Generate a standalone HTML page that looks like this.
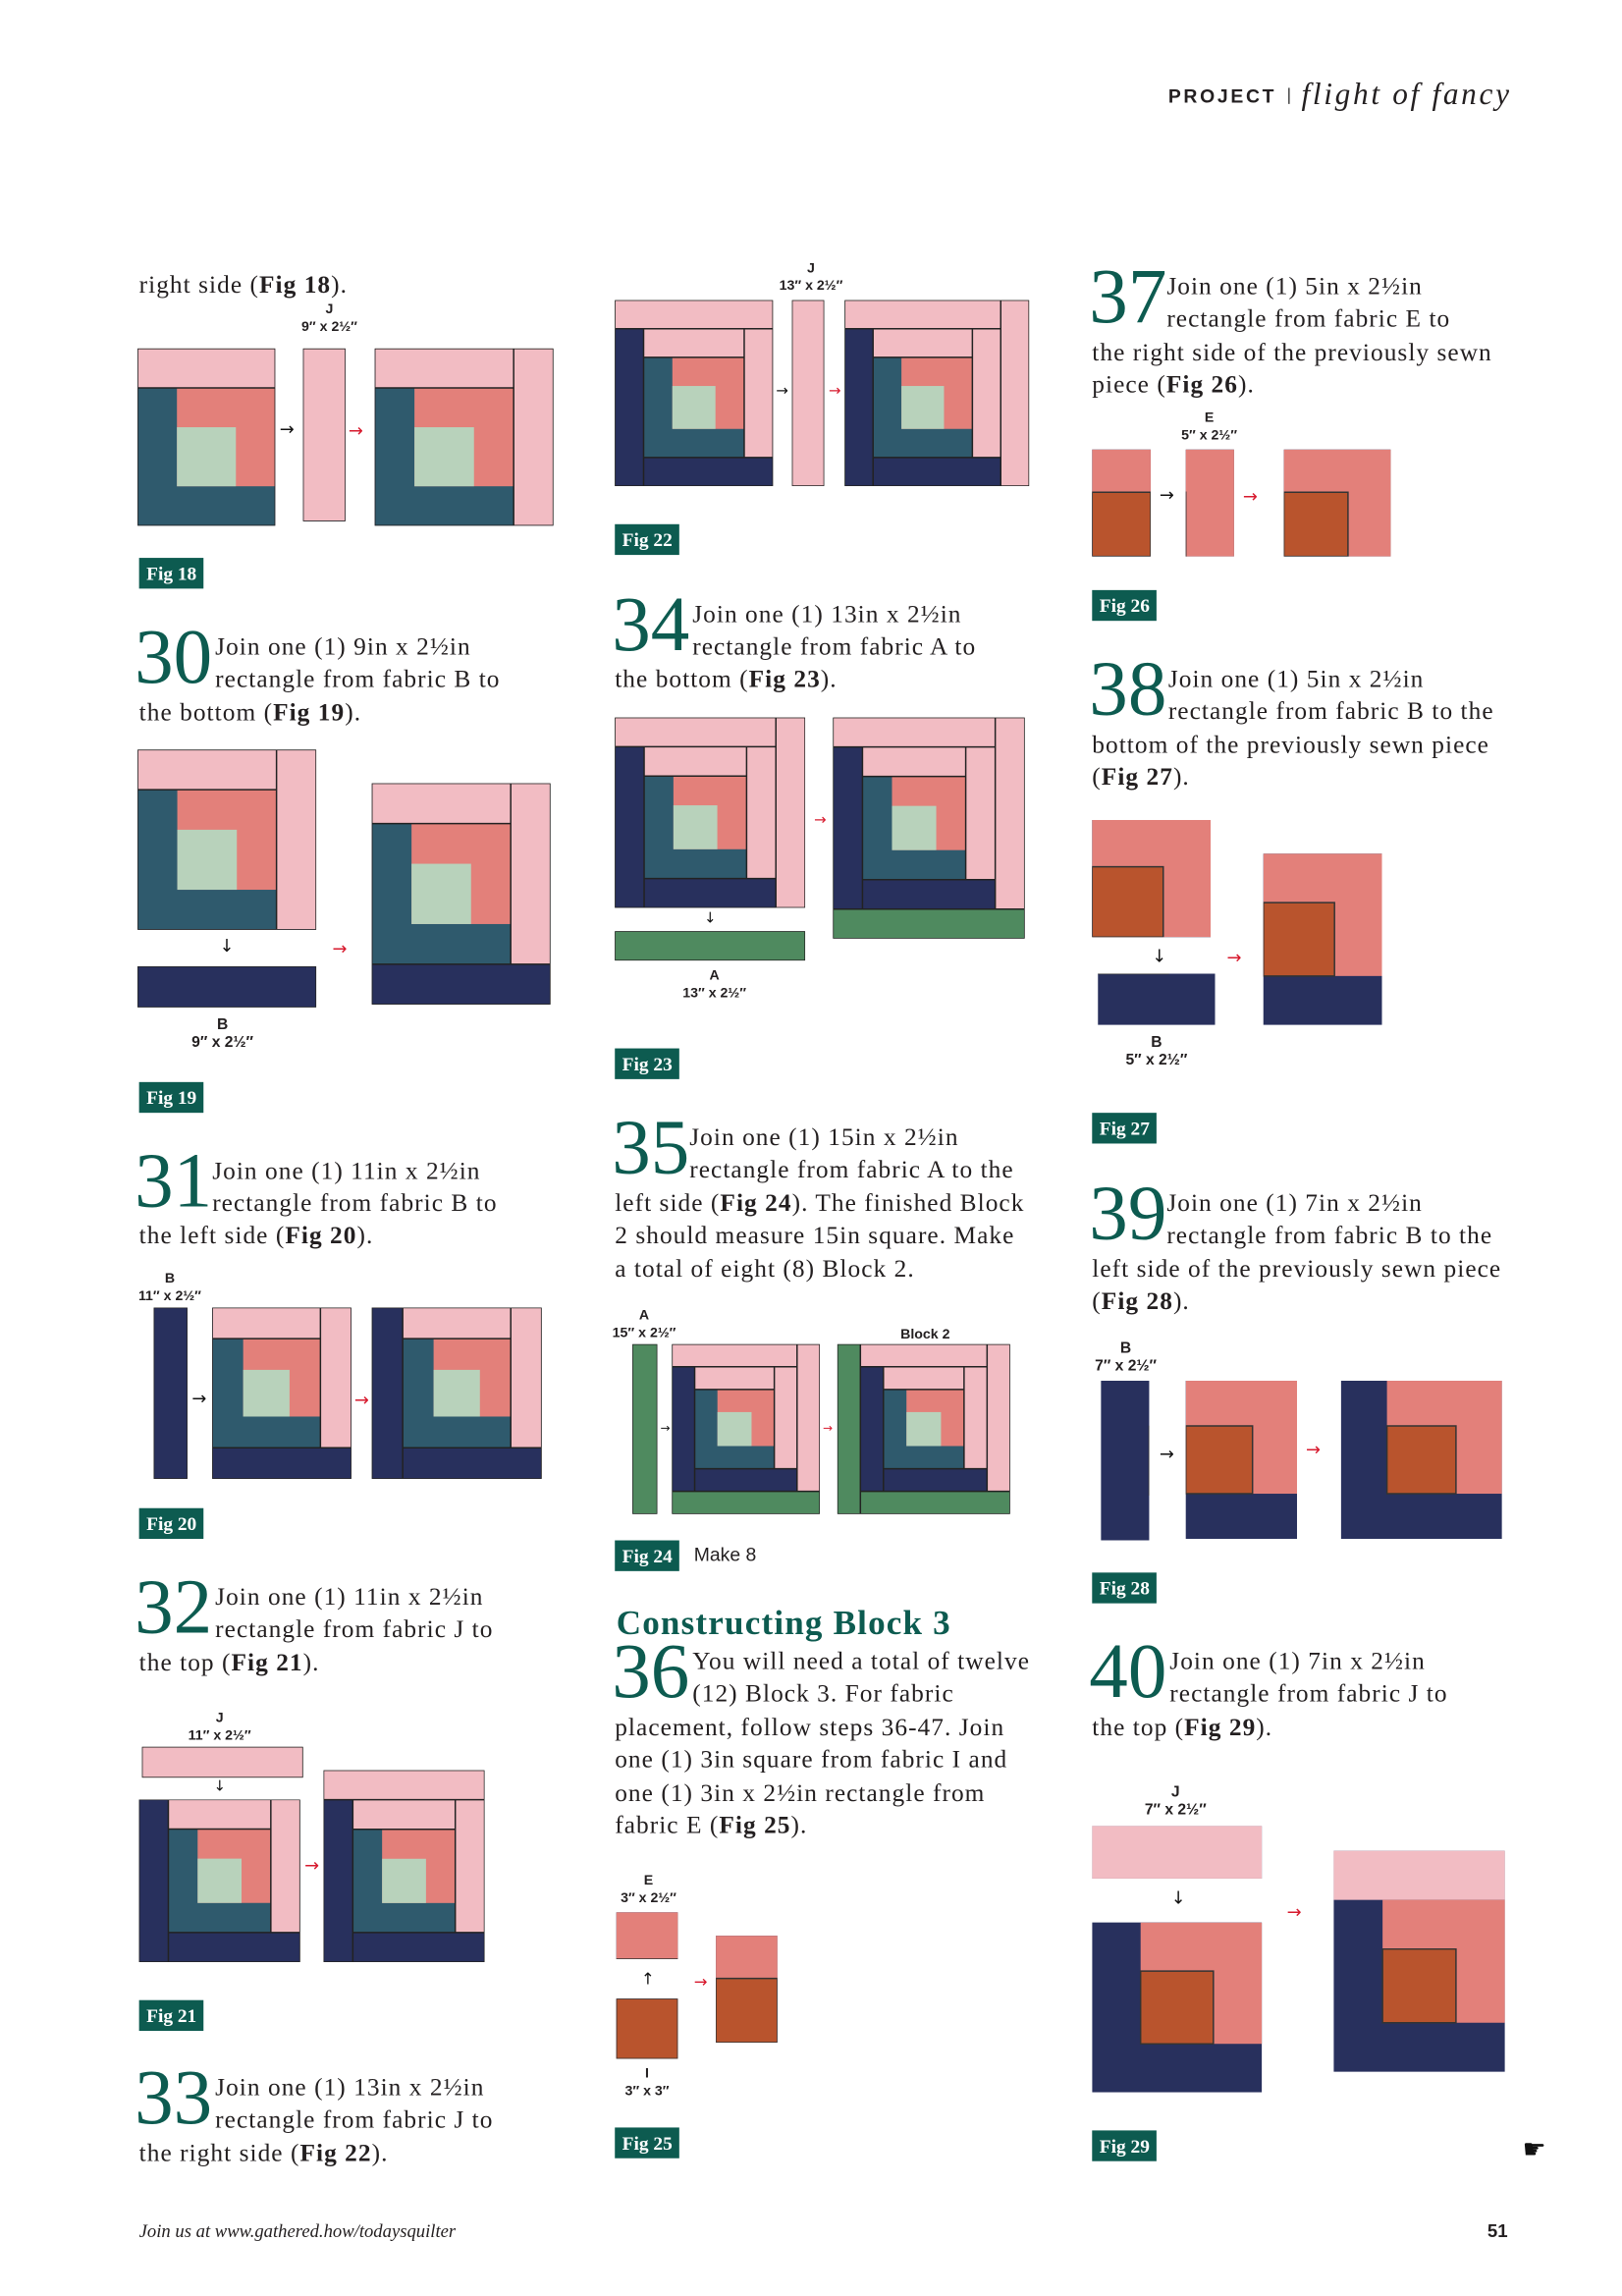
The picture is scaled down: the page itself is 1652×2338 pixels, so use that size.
<!DOCTYPE html>
<html><head><meta charset="utf-8">
<style>
html,body{margin:0;padding:0;background:#fff;}
body{width:1652px;height:2337px;overflow:hidden;position:relative;}
#w{position:absolute;left:0;top:0;width:1108px;height:1568px;transform:scale(1.491);transform-origin:0 0;}
.a{position:absolute;}
.t{position:absolute;font-family:"Liberation Serif",serif;font-size:17px;line-height:22.4px;color:#231f20;letter-spacing:0.7px;white-space:nowrap;}
.n{position:absolute;font-family:"Liberation Serif",serif;font-size:53px;line-height:53px;color:#0d5b50;}
.fl{position:absolute;background:#0d5b50;color:#fff;font-family:"Liberation Serif",serif;font-weight:bold;font-size:13px;line-height:21px;height:21px;padding:0 5px;}
.lb{position:absolute;font-family:"Liberation Sans",sans-serif;font-weight:bold;font-size:9.5px;line-height:12px;color:#231f20;text-align:center;white-space:nowrap;}
svg.b{position:absolute;}
.ar{position:absolute;font-family:"DejaVu Sans",sans-serif;font-size:12px;line-height:12px;color:#111;}
.ar.r{color:#d7192d;}
</style></head><body>
<svg width="0" height="0" style="position:absolute">
<defs>
<g id="L">
<rect x="0" y="0" width="15" height="15" fill="#4f8a5f"/>
<rect x="2" y="0" width="13" height="13" fill="#f2bcc3"/>
<rect x="2" y="2" width="11" height="11" fill="#28305d"/>
<rect x="4" y="2" width="9" height="9" fill="#f2bcc3"/>
<rect x="4" y="4" width="7" height="7" fill="#2f5a6d"/>
<rect x="6" y="4" width="5" height="5" fill="#e3807a"/>
<rect x="6" y="6" width="3" height="3" fill="#b8d2bb"/>
<path d="M2 0V15M2 13H15M13 0V13M2 2H13M4 2V13M4 11H13M11 2V11M4 4H11M0 0H15V15H0Z" stroke="#222" stroke-width="1" vector-effect="non-scaling-stroke" fill="none"/>
</g>
<g id="K">
<rect x="0" y="0" width="7" height="9" fill="#28305d"/>
<rect x="0" y="0" width="7" height="2" fill="#f2bcc3"/>
<rect x="2" y="2" width="5" height="5" fill="#e3807a"/>
<rect x="2" y="4" width="3" height="3" fill="#b9542d"/>
<path d="M2 4H5V7H2Z" stroke="#333" stroke-width="1" vector-effect="non-scaling-stroke" fill="none"/>
</g>
</defs></svg>
<div id="w">
<div class="a" style="left:798px;top:58px;font-family:'Liberation Sans',sans-serif;font-weight:bold;font-size:13px;letter-spacing:1.8px;color:#231f20;line-height:16px;">PROJECT</div>
<div class="a" style="left:880px;top:60px;width:1px;height:11px;background:#444;"></div>
<div class="a" style="left:889px;top:52px;font-family:'Liberation Serif',serif;font-style:italic;font-size:21px;letter-spacing:1.8px;color:#231f20;line-height:24px;">flight of fancy</div>

<div class="t" style="left:95px;top:184px;">right side (<b>Fig 18</b>).</div>
<div class="lb" style="left:205px;top:206px;width:40px;">J<br>9″ x 2½″</div>
<svg class="b" style="left:94px;top:238px;width:94px;height:121px" viewBox="4 2 7 9" preserveAspectRatio="none"><use href="#L"/></svg>
<div class="ar" style="left:191px;top:287px;">→</div>
<svg class="b" style="left:207px;top:238px;width:29px;height:118px" viewBox="11 2 2 9" preserveAspectRatio="none"><use href="#L"/></svg>
<div class="ar r" style="left:238px;top:288px;">→</div>
<svg class="b" style="left:256px;top:238px;width:122px;height:121px" viewBox="4 2 9 9" preserveAspectRatio="none"><use href="#L"/></svg>
<div class="fl" style="left:95px;top:381px;">Fig 18</div>

<div class="n" style="left:92px;top:423px;">30</div>
<div class="t" style="left:147px;top:431px;">Join one (1) 9in x 2½in<br>rectangle from fabric B to</div>
<div class="t" style="left:95px;top:476px;">the bottom (<b>Fig 19</b>).</div>
<svg class="b" style="left:94px;top:512px;width:122px;height:123px" viewBox="4 2 9 9" preserveAspectRatio="none"><use href="#L"/></svg>
<div class="ar" style="left:150px;top:640px;">↓</div>
<svg class="b" style="left:94px;top:660px;width:122px;height:28px" viewBox="4 11 9 2" preserveAspectRatio="none"><use href="#L"/></svg>
<div class="lb" style="left:120px;top:694px;width:64px;font-size:10.5px;">B<br>9″ x 2½″</div>
<div class="ar r" style="left:227px;top:642px;">→</div>
<svg class="b" style="left:254px;top:535px;width:122px;height:151px" viewBox="4 2 9 11" preserveAspectRatio="none"><use href="#L"/></svg>
<div class="fl" style="left:95px;top:739px;">Fig 19</div>

<div class="n" style="left:92px;top:781px;">31</div>
<div class="t" style="left:145px;top:789px;">Join one (1) 11in x 2½in<br>rectangle from fabric B to</div>
<div class="t" style="left:95px;top:833px;">the left side (<b>Fig 20</b>).</div>
<div class="lb" style="left:93px;top:868px;width:46px;">B<br>11″ x 2½″</div>
<svg class="b" style="left:105px;top:893px;width:23px;height:117px" viewBox="2 2 2 11" preserveAspectRatio="none"><use href="#L"/></svg>
<div class="ar" style="left:131px;top:949px;">→</div>
<svg class="b" style="left:145px;top:893px;width:95px;height:117px" viewBox="4 2 9 11" preserveAspectRatio="none"><use href="#L"/></svg>
<div class="ar r" style="left:242px;top:950px;">→</div>
<svg class="b" style="left:254px;top:893px;width:116px;height:117px" viewBox="2 2 11 11" preserveAspectRatio="none"><use href="#L"/></svg>
<div class="fl" style="left:95px;top:1030px;">Fig 20</div>

<div class="n" style="left:92px;top:1072px;">32</div>
<div class="t" style="left:147px;top:1080px;">Join one (1) 11in x 2½in<br>rectangle from fabric J to</div>
<div class="t" style="left:95px;top:1125px;">the top (<b>Fig 21</b>).</div>
<div class="lb" style="left:127px;top:1168px;width:46px;">J<br>11″ x 2½″</div>
<svg class="b" style="left:97px;top:1193px;width:110px;height:21px" viewBox="2 0 11 2" preserveAspectRatio="none"><use href="#L"/></svg>
<div class="ar" style="left:146px;top:1215px;font-size:10px;">↓</div>
<svg class="b" style="left:95px;top:1229px;width:110px;height:111px" viewBox="2 2 11 11" preserveAspectRatio="none"><use href="#L"/></svg>
<div class="ar r" style="left:208px;top:1268px;">→</div>
<svg class="b" style="left:221px;top:1209px;width:110px;height:131px" viewBox="2 0 11 13" preserveAspectRatio="none"><use href="#L"/></svg>
<div class="fl" style="left:95px;top:1366px;">Fig 21</div>

<div class="n" style="left:92px;top:1407px;">33</div>
<div class="t" style="left:147px;top:1415px;">Join one (1) 13in x 2½in<br>rectangle from fabric J to</div>
<div class="t" style="left:95px;top:1460px;">the right side (<b>Fig 22</b>).</div>

<div class="lb" style="left:531px;top:178px;width:46px;">J<br>13″ x 2½″</div>
<svg class="b" style="left:420px;top:205px;width:108px;height:127px" viewBox="2 0 11 13" preserveAspectRatio="none"><use href="#L"/></svg>
<div class="ar" style="left:530px;top:262px;font-size:10px;">→</div>
<svg class="b" style="left:541px;top:205px;width:22px;height:127px" viewBox="13 0 2 13" preserveAspectRatio="none"><use href="#L"/></svg>
<div class="ar r" style="left:566px;top:262px;font-size:10px;">→</div>
<svg class="b" style="left:577px;top:205px;width:126px;height:127px" viewBox="2 0 13 13" preserveAspectRatio="none"><use href="#L"/></svg>
<div class="fl" style="left:420px;top:358px;">Fig 22</div>

<div class="n" style="left:418px;top:401px;">34</div>
<div class="t" style="left:473px;top:409px;">Join one (1) 13in x 2½in<br>rectangle from fabric A to</div>
<div class="t" style="left:420px;top:453px;">the bottom (<b>Fig 23</b>).</div>
<svg class="b" style="left:420px;top:490px;width:130px;height:130px" viewBox="2 0 13 13" preserveAspectRatio="none"><use href="#L"/></svg>
<div class="ar" style="left:481px;top:622px;font-size:10px;">↓</div>
<svg class="b" style="left:420px;top:636px;width:130px;height:20px" viewBox="2 13 13 2" preserveAspectRatio="none"><use href="#L"/></svg>
<div class="lb" style="left:465px;top:661px;width:46px;">A<br>13″ x 2½″</div>
<div class="ar r" style="left:556px;top:555px;font-size:10px;">→</div>
<svg class="b" style="left:569px;top:490px;width:131px;height:151px" viewBox="2 0 13 15" preserveAspectRatio="none"><use href="#L"/></svg>
<div class="fl" style="left:420px;top:716px;">Fig 23</div>

<div class="n" style="left:418px;top:758px;">35</div>
<div class="t" style="left:471px;top:766px;">Join one (1) 15in x 2½in<br>rectangle from fabric A to the</div>
<div class="t" style="left:420px;top:811px;">left side (<b>Fig 24</b>). The finished Block<br>2 should measure 15in square. Make<br>a total of eight (8) Block 2.</div>
<div class="lb" style="left:417px;top:893px;width:46px;">A<br>15″ x 2½″</div>
<svg class="b" style="left:432px;top:918px;width:17px;height:116px" viewBox="0 0 2 15" preserveAspectRatio="none"><use href="#L"/></svg>
<div class="ar" style="left:451px;top:970px;font-size:8px;">→</div>
<svg class="b" style="left:459px;top:918px;width:101px;height:116px" viewBox="2 0 13 15" preserveAspectRatio="none"><use href="#L"/></svg>
<div class="ar r" style="left:562px;top:970px;font-size:8px;">→</div>
<div class="lb" style="left:612px;top:906px;width:40px;">Block 2</div>
<svg class="b" style="left:572px;top:918px;width:118px;height:116px" viewBox="0 0 15 15" preserveAspectRatio="none"><use href="#L"/></svg>
<div class="fl" style="left:420px;top:1052px;">Fig 24</div>
<div class="a" style="left:474px;top:1054px;font-family:'Liberation Sans',sans-serif;font-size:13px;line-height:16px;color:#231f20;">Make 8</div>

<div class="a" style="left:421px;top:1095px;font-family:'Liberation Serif',serif;font-weight:bold;font-size:23.5px;line-height:28px;color:#0d5b50;letter-spacing:0.8px;white-space:nowrap;">Constructing Block 3</div>
<div class="n" style="left:418px;top:1116px;">36</div>
<div class="t" style="left:473px;top:1124px;">You will need a total of twelve<br>(12) Block 3. For fabric</div>
<div class="t" style="left:420px;top:1169px;">placement, follow steps 36-47. Join<br>one (1) 3in square from fabric I and<br>one (1) 3in x 2½in rectangle from<br>fabric E (<b>Fig 25</b>).</div>
<div class="lb" style="left:421px;top:1279px;width:44px;">E<br>3″ x 2½″</div>
<svg class="b" style="left:421px;top:1306px;width:42px;height:32px" viewBox="2 2 3 2" preserveAspectRatio="none"><use href="#K"/></svg>
<div class="ar" style="left:438px;top:1346px;font-size:11px;">↑</div>
<svg class="b" style="left:421px;top:1365px;width:42px;height:41px" viewBox="2 4 3 3" preserveAspectRatio="none"><use href="#K"/></svg>
<div class="lb" style="left:422px;top:1411px;width:40px;">I<br>3″ x 3″</div>
<div class="ar r" style="left:474px;top:1348px;font-size:11px;">→</div>
<svg class="b" style="left:489px;top:1322px;width:42px;height:73px" viewBox="2 2 3 5" preserveAspectRatio="none"><use href="#K"/></svg>
<div class="fl" style="left:420px;top:1453px;">Fig 25</div>

<div class="n" style="left:744px;top:177px;">37</div>
<div class="t" style="left:797px;top:185px;">Join one (1) 5in x 2½in<br>rectangle from fabric E to</div>
<div class="t" style="left:746px;top:230px;">the right side of the previously sewn<br>piece (<b>Fig 26</b>).</div>
<div class="lb" style="left:802px;top:280px;width:48px;">E<br>5″ x 2½″</div>
<svg class="b" style="left:746px;top:307px;width:40px;height:73px" viewBox="2 2 3 5" preserveAspectRatio="none"><use href="#K"/></svg>
<div class="ar" style="left:792px;top:332px;">→</div>
<svg class="b" style="left:810px;top:307px;width:33px;height:73px" viewBox="5 2 2 5" preserveAspectRatio="none"><use href="#K"/></svg>
<div class="ar r" style="left:849px;top:333px;">→</div>
<svg class="b" style="left:877px;top:307px;width:73px;height:73px" viewBox="2 2 5 5" preserveAspectRatio="none"><use href="#K"/></svg>
<div class="fl" style="left:746px;top:403px;">Fig 26</div>

<div class="n" style="left:744px;top:445px;">38</div>
<div class="t" style="left:798px;top:453px;">Join one (1) 5in x 2½in<br>rectangle from fabric B to the</div>
<div class="t" style="left:746px;top:498px;">bottom of the previously sewn piece<br>(<b>Fig 27</b>).</div>
<svg class="b" style="left:746px;top:560px;width:81px;height:80px" viewBox="2 2 5 5" preserveAspectRatio="none"><use href="#K"/></svg>
<div class="ar" style="left:787px;top:647px;">↓</div>
<svg class="b" style="left:750px;top:665px;width:80px;height:35px" viewBox="2 7 5 2" preserveAspectRatio="none"><use href="#K"/></svg>
<div class="lb" style="left:764px;top:706px;width:52px;font-size:10.5px;">B<br>5″ x 2½″</div>
<div class="ar r" style="left:838px;top:648px;">→</div>
<svg class="b" style="left:863px;top:583px;width:81px;height:117px" viewBox="2 2 5 7" preserveAspectRatio="none"><use href="#K"/></svg>
<div class="fl" style="left:746px;top:760px;">Fig 27</div>

<div class="n" style="left:744px;top:803px;">39</div>
<div class="t" style="left:797px;top:811px;">Join one (1) 7in x 2½in<br>rectangle from fabric B to the</div>
<div class="t" style="left:746px;top:856px;">left side of the previously sewn piece<br>(<b>Fig 28</b>).</div>
<div class="lb" style="left:745px;top:915px;width:48px;font-size:10.5px;">B<br>7″ x 2½″</div>
<svg class="b" style="left:752px;top:943px;width:33px;height:109px" viewBox="0 2 2 7" preserveAspectRatio="none"><use href="#K"/></svg>
<div class="ar" style="left:792px;top:987px;">→</div>
<svg class="b" style="left:810px;top:943px;width:76px;height:108px" viewBox="2 2 5 7" preserveAspectRatio="none"><use href="#K"/></svg>
<div class="ar r" style="left:892px;top:984px;">→</div>
<svg class="b" style="left:916px;top:943px;width:110px;height:108px" viewBox="0 2 7 7" preserveAspectRatio="none"><use href="#K"/></svg>
<div class="fl" style="left:746px;top:1074px;">Fig 28</div>

<div class="n" style="left:744px;top:1116px;">40</div>
<div class="t" style="left:799px;top:1124px;">Join one (1) 7in x 2½in<br>rectangle from fabric J to</div>
<div class="t" style="left:746px;top:1169px;">the top (<b>Fig 29</b>).</div>
<div class="lb" style="left:777px;top:1218px;width:52px;font-size:10.5px;">J<br>7″ x 2½″</div>
<svg class="b" style="left:746px;top:1247px;width:116px;height:36px" viewBox="0 0 7 2" preserveAspectRatio="none"><use href="#K"/></svg>
<div class="ar" style="left:800px;top:1290px;">↓</div>
<svg class="b" style="left:746px;top:1313px;width:116px;height:116px" viewBox="0 2 7 7" preserveAspectRatio="none"><use href="#K"/></svg>
<div class="ar r" style="left:879px;top:1300px;">→</div>
<svg class="b" style="left:911px;top:1264px;width:117px;height:151px" viewBox="0 0 7 9" preserveAspectRatio="none"><use href="#K"/></svg>
<div class="fl" style="left:746px;top:1455px;">Fig 29</div>
<div class="a" style="left:1040px;top:1459px;font-family:'DejaVu Sans',sans-serif;font-size:18px;line-height:20px;color:#111;">☛</div>

<div class="a" style="left:95px;top:1516px;font-family:'Liberation Serif',serif;font-style:italic;font-size:12.5px;line-height:16px;color:#231f20;">Join us at www.gathered.how/todaysquilter</div>
<div class="a" style="left:1016px;top:1516px;font-family:'Liberation Sans',sans-serif;font-weight:bold;font-size:12.5px;line-height:16px;color:#231f20;">51</div>
</div>
</body></html>
